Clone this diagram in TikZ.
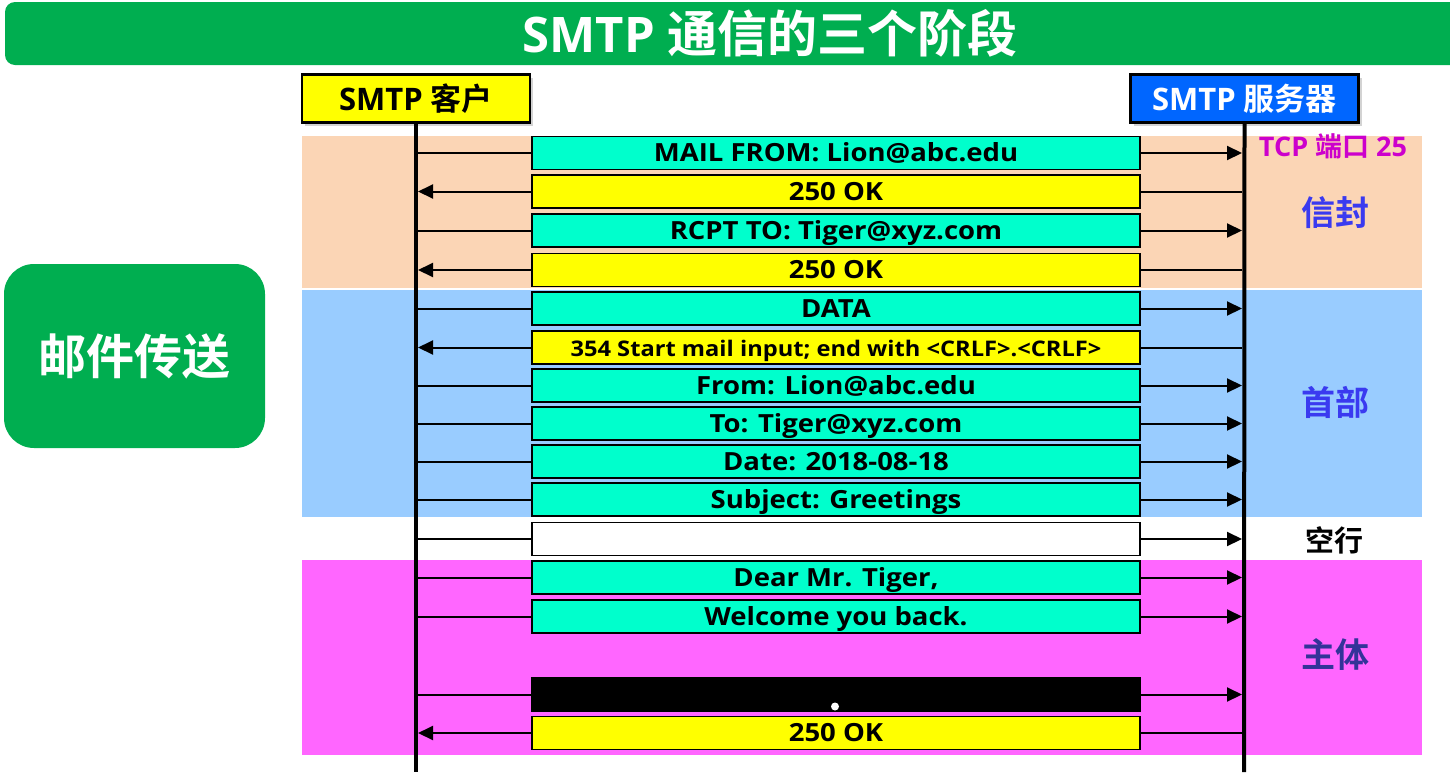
\documentclass[tikz,border=0pt]{standalone}
\usepackage{fontspec}
\setmainfont{Open Sans}[BoldFont=* Bold]
\newfontfamily\cjk{Noto Sans CJK SC}[BoldFont=* Bold]
\newfontfamily\msgfont{Open Sans}[BoldFont=* Bold, FakeStretch=1.1]
\usetikzlibrary{arrows.meta,shadows}
\definecolor{titlegreen}{HTML}{00AE50}
\definecolor{peach}{HTML}{FBD5B5}
\definecolor{lightblue}{HTML}{99CCFF}
\definecolor{pinkband}{HTML}{FF66FF}
\definecolor{msgcyan}{HTML}{00FFCC}
\definecolor{msgyellow}{HTML}{FFFF00}
\definecolor{serverblue}{HTML}{0066FF}
\definecolor{labelblue}{HTML}{3A3AF0}
\definecolor{labelpurple}{HTML}{333399}
\definecolor{tcpmagenta}{HTML}{CC00CC}
\tikzset{
  msg/.style={draw=black, line width=1.6pt, minimum width=608pt, minimum height=33pt,
    inner sep=0pt, text height=19pt, text depth=2pt,
    font=\msgfont\bfseries\fontsize{25}{28}\selectfont},
  cyanmsg/.style={msg, fill=msgcyan},
  yellowmsg/.style={msg, fill=msgyellow},
  whitemsg/.style={msg, fill=white},
  blackmsg/.style={msg, fill=black},
  endpoint/.style={draw=black, line width=2.4pt, minimum width=228pt, minimum height=48pt,
    inner sep=0pt, font=\bfseries\fontsize{31}{34}\selectfont,
    drop shadow={opacity=0.35, shadow xshift=3pt, shadow yshift=-3pt}},
  conn/.style={line width=2pt},
  arr/.style={conn, -{Triangle[length=15pt,width=14pt]}},
  lifeline/.style={line width=4pt},
  sidelabel/.style={font=\bfseries\cjk\fontsize{34}{38}\selectfont, inner sep=0pt},
}
\begin{document}
\begin{tikzpicture}[x=1pt,y=-1pt]
\useasboundingbox (0,0) rectangle (1450,774);
% title bar
\fill[titlegreen, rounded corners=10pt] (5,2) rectangle (1480,65);
\node[text=white, font=\bfseries\fontsize{49}{52}\selectfont, inner sep=0pt] (title) at (770,33)
  {SMTP {\cjk\fontsize{50}{54}\selectfont 通信的三个阶段}};
% left label
\node[fill=titlegreen, rounded corners=30pt, minimum width=261pt, minimum height=184pt,
  text=white, font=\bfseries\cjk\fontsize{48}{52}\selectfont, inner sep=0pt] (transfer) at (134.5,356) {邮件传送};
% bands
\fill[peach] (302,136) rectangle (1422,288);
\fill[lightblue] (302,290) rectangle (1422,517);
\fill[pinkband] (302,560) rectangle (1422,755);
% endpoints
\node[endpoint, fill=msgyellow] (client) at (416,98.5) {SMTP {\cjk 客户}};
\node[endpoint, fill=serverblue, text=white] (server) at (1244.5,98.5) {SMTP {\cjk 服务器}};
% lifeline ends
\coordinate (cend) at (416,772);
\coordinate (send) at (1244,772);
% messages
\node[cyanmsg]   (m1)  at (836,153)   {MAIL FROM: Lion@abc.edu};
\node[yellowmsg] (m2)  at (836,191.5) {250 OK};
\node[cyanmsg]   (m3)  at (836,230.5) {RCPT TO: Tiger@xyz.com};
\node[yellowmsg] (m4)  at (836,270)   {250 OK};
\node[cyanmsg]   (m5)  at (836,308.5) {DATA};
\node[yellowmsg, font=\msgfont\bfseries\fontsize{21.5}{24}\selectfont] (m6) at (836,347.5) {354 Start mail input; end with <CRLF>.<CRLF>};
\node[cyanmsg]   (m7)  at (836,385.5) {From: Lion@abc.edu};
\node[cyanmsg]   (m8)  at (836,423.5) {To: Tiger@xyz.com};
\node[cyanmsg]   (m9)  at (836,461.5) {Date: 2018-08-18};
\node[cyanmsg]   (m10) at (836,499.5) {Subject: Greetings};
\node[whitemsg]  (m11) at (836,539)   {};
\node[cyanmsg]   (m12) at (836,577.5) {Dear Mr. Tiger,};
\node[cyanmsg]   (m13) at (836,616.5) {Welcome you back.};
\node[blackmsg]  (m14) at (836,694.5) {};
\node[yellowmsg] (m15) at (836,733)   {250 OK};
\node[circle, fill=white, inner sep=0pt, minimum size=8pt] (dot) at (835,706.5) {};
% row coordinates
\foreach \i/\y in {1/153,2/191.5,3/230.5,4/270,5/308.5,6/347.5,7/385.5,8/423.5,9/461.5,10/499.5,11/539,12/577.5,13/616.5,14/694.5,15/733}{
  \coordinate (cl\i) at (418,\y);
  \coordinate (sr\i) at (1242,\y);
}
% client -> server
\foreach \i in {1,3,5,7,8,9,10,11,12,13,14}{
  \draw[conn] (cl\i) -- (m\i.west);
  \draw[arr] (m\i.east) -- (sr\i);
}
% server -> client
\foreach \i in {2,4,6,15}{
  \draw[conn] (sr\i) -- (m\i.east);
  \draw[arr] (m\i.west) -- (cl\i);
}
% lifelines
\draw[lifeline] (client.south) -- (cend);
\draw[lifeline] (server.south) -- (send);
% side labels
\node[text=tcpmagenta, font=\bfseries\fontsize{27}{30}\selectfont, inner sep=0pt] (tcp) at (1333,146) {TCP {\cjk 端口} 25};
\node[sidelabel, text=labelblue] (envelope) at (1335,213) {信封};
\node[sidelabel, text=labelblue] (header) at (1335,402) {首部};
\node[sidelabel, text=black, font=\bfseries\cjk\fontsize{29}{32}\selectfont] (blankline) at (1334,540) {空行};
\node[sidelabel, text=labelpurple] (body) at (1335,655) {主体};
\end{tikzpicture}
\end{document}
